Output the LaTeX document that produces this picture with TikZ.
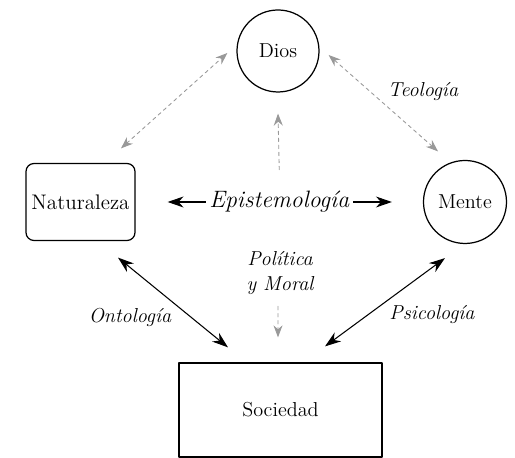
\documentclass[tikz,border=0pt]{standalone}
\usepackage{amsmath}
\usetikzlibrary{arrows.meta,calc}

\begin{document}
\begin{tikzpicture}[
  line cap=round,
  line join=round,
  >=Stealth,
  font=\fontsize{11.5}{13.8}\selectfont,
  realm/.style={
    circle,
    draw=black,
    fill=white,
    minimum size=16.4mm,
    inner sep=0pt,
    line width=0.7pt
  },
  plainbox/.style={
    rectangle,
    draw=black,
    fill=white,
    inner sep=0pt,
    line width=0.7pt
  },
  link/.style={
    draw=black,
    line width=0.6pt,
    {Stealth[length=3.2mm,width=2.2mm]}-{Stealth[length=3.2mm,width=2.2mm]}
  },
  hint/.style={
    draw=black!40,
    line width=0.5pt,
    dash pattern=on 2pt off 2pt
  },
  hintarrow/.style={hint,-{Stealth[length=2.4mm,width=1.8mm]}},
  hintlink/.style={hint,{Stealth[length=2.4mm,width=1.8mm]}-{Stealth[length=2.4mm,width=1.8mm]}},
  fieldlabel/.style={font=\fontsize{11.5}{13.8}\selectfont\itshape,text=black}
]

\useasboundingbox (0,0) rectangle (10.30,9.16);

% the four realms
\node[realm] (dios) at (5.56,8.14) {Dios};
\node[plainbox,rounded corners=1.6mm,minimum width=21.8mm,minimum height=15.4mm,
  font=\fontsize{12}{14}\selectfont] (nat) at (1.61,5.12) {Naturaleza};
\node[realm,minimum size=16.6mm] (mente) at (9.30,5.12) {Mente};
\node[plainbox,minimum width=40.6mm,minimum height=18.8mm]
  (soc) at (5.61,0.96) {Sociedad};

% solid links between the worldly realms
\draw[link,shorten <=6.4mm,shorten >=6.2mm] (nat) --
  node[fill=white,fieldlabel,font=\fontsize{13.5}{16}\selectfont\itshape,inner sep=2pt]
  (epi) {Epistemología} (mente);
\draw[link] ($(nat.south)+(0.75,-0.33)$) -- ($(soc.north)+(-1.05,0.30)$);
\draw[link] ($(mente.south)+(-0.40,-0.28)$) -- ($(soc.north)+(0.89,0.32)$);

% dotted links towards God
\draw[hintlink] ($(nat.north)+(0.81,0.29)$) -- ($(dios.west)+(-0.18,-0.04)$);
\draw[hintlink] ($(mente.north)+(-0.54,0.17)$) -- ($(dios.east)+(0.18,-0.08)$);
\draw[hintarrow] ($(epi.north)+(0,0.35)$) -- ($(dios.south)+(0,-0.42)$);

\node[fieldlabel,align=center] (pol) at (5.60,3.70) {Política\\y Moral};
\draw[hintarrow] ($(pol.south)+(-0.04,-0.12)$) -- ($(soc.north)+(-0.05,0.50)$);

\node[fieldlabel] (teo)  at (8.46,7.32) {Teología};
\node[fieldlabel] (onto) at (2.60,2.82) {Ontología};
\node[fieldlabel] (psi)  at (8.64,2.86) {Psicología};

\end{tikzpicture}
\end{document}
